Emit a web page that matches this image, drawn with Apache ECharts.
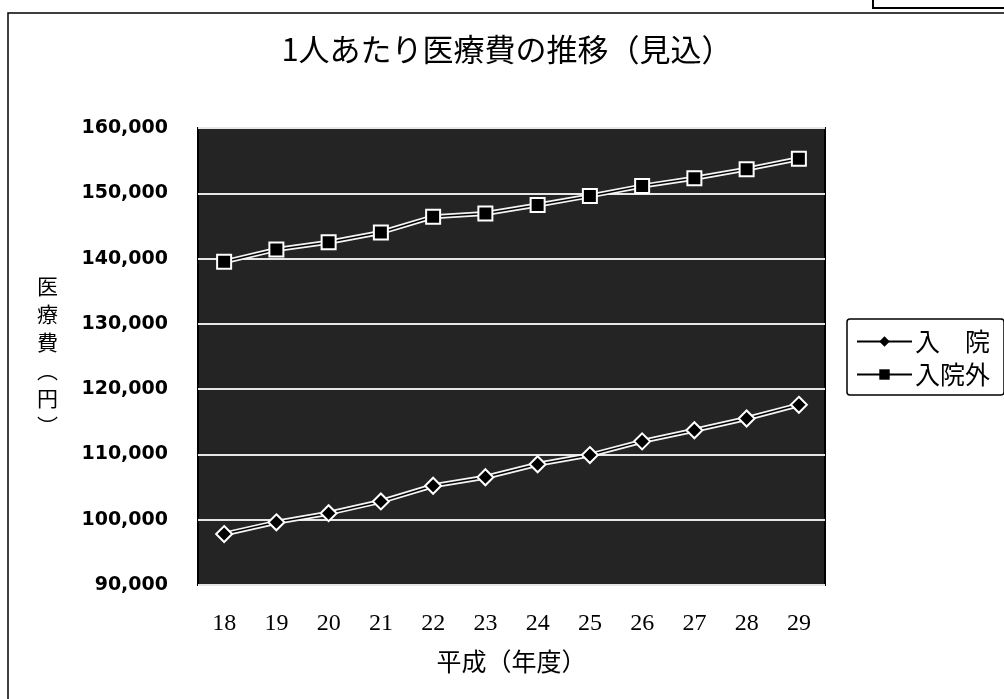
<!DOCTYPE html>
<html>
<head>
<meta charset="utf-8">
<script src="https://cdn.jsdelivr.net/npm/echarts@6/dist/echarts.min.js"></script>
<style>
html, body { margin: 0; padding: 0; background: #fff; }
#chart { width: 1004px; height: 699px; }
</style>
</head>
<body>
<div id="chart"></div>
<script>
// 平成 年度
var years = ['18', '19', '20', '21', '22', '23', '24', '25', '26', '27', '28', '29'];
// 入院 (円)
var nyuin = [97800, 99600, 101000, 102800, 105200, 106500, 108500, 109900, 112000, 113700, 115500, 117600];
// 入院外 (円)
var nyuinGai = [139500, 141400, 142500, 144000, 146400, 146900, 148200, 149600, 151100, 152300, 153700, 155300];

var yMin = 90000;
var yMax = 160000;
var yStep = 10000;

var chart = echarts.init(document.getElementById('chart'));

// black line drawn over a wider white one gives the outlined look of the original
function lineSeries(name, data, symbol, size){
	return [
		{
			name: name,
			type: 'line',
			data: data,
			symbol: symbol,
			symbolSize: size,
			z: 4,
			lineStyle: { color: '#000', width: 1.5 },
			itemStyle: { color: '#000', borderColor: '#fff', borderWidth: 2 }
		},
		{
			name: name,
			type: 'line',
			data: data,
			symbol: 'none',
			z: 3,
			silent: true,
			lineStyle: { color: '#f4f4f4', width: 5 }
		}
	];
}

var options = {
	backgroundColor: '#fff',
	animation: false,
	title: {
		text: '1人あたり医療費の推移（見込）',
		left: 502,
		top: 29,
		textAlign: 'center',
		textStyle: {
			fontFamily: 'Noto Sans CJK JP',
			fontWeight: 'normal',
			fontSize: 31,
			color: '#000'
		}
	},
	legend: {
		orient: 'vertical',
		left: 847,
		top: 319,
		itemWidth: 55,
		itemHeight: 13,
		itemGap: 8,
		padding: [10, 14, 8, 9],
		borderColor: '#000',
		borderWidth: 1.5,
		borderRadius: 3,
		backgroundColor: '#fff',
		data: ['入　院', '入院外'],
		itemStyle: { color: '#000', borderWidth: 0 },
		lineStyle: { color: '#000', width: 2 },
		textStyle: {
			fontFamily: 'Noto Sans CJK JP',
			fontSize: 25,
			color: '#000',
			padding: [0, 0, 0, -2]
		}
	},
	grid: {
		left: 198,
		right: 179,
		top: 128,
		bottom: 114,
		show: true,
		backgroundColor: '#242424',
		borderColor: '#000',
		borderWidth: 2
	},
	xAxis: {
		type: 'category',
		data: years,
		boundaryGap: true,
		name: '平成（年度）',
		nameLocation: 'middle',
		nameGap: 64,
		nameTextStyle: {
			fontFamily: 'Noto Sans CJK JP',
			fontSize: 25,
			color: '#000',
			verticalAlign: 'top'
		},
		axisLine: { show: false },
		axisTick: { show: false },
		axisLabel: {
			margin: 27,
			fontFamily: 'Liberation Serif',
			fontSize: 24,
			color: '#000'
		}
	},
	yAxis: {
		type: 'value',
		min: yMin,
		max: yMax,
		interval: yStep,
		name: '医\n療\n費\n︵\n円\n︶',
		nameLocation: 'middle',
		nameRotate: 0,
		nameGap: 140,
		nameTextStyle: {
			fontFamily: 'Noto Sans CJK JP',
			fontSize: 21,
			lineHeight: 28,
			color: '#000'
		},
		axisLine: { show: false },
		axisTick: { show: false },
		axisLabel: {
			margin: 30,
			fontFamily: 'DejaVu Sans',
			fontWeight: 'bold',
			fontSize: 19,
			color: '#000',
			formatter: function (v) { return v.toLocaleString('en-US'); }
		},
		splitLine: {
			lineStyle: { color: '#e6e6e6', width: 2 }
		}
	},
	series: [].concat(
		lineSeries('入　院', nyuin, 'diamond', 16),
		lineSeries('入院外', nyuinGai, 'rect', 14)
	),
	graphic: [
		{
			type: 'rect',
			shape: { x: 8, y: 13, width: 1010, height: 700 },
			style: { fill: 'none', stroke: '#000', lineWidth: 1.5 },
			silent: true,
			z: -1
		},
		{
			type: 'rect',
			shape: { x: 873, y: -10, width: 150, height: 18 },
			style: { fill: 'none', stroke: '#000', lineWidth: 2 },
			silent: true,
			z: -1
		}
	]
};

chart.setOption(options);
</script>
</body>
</html>
